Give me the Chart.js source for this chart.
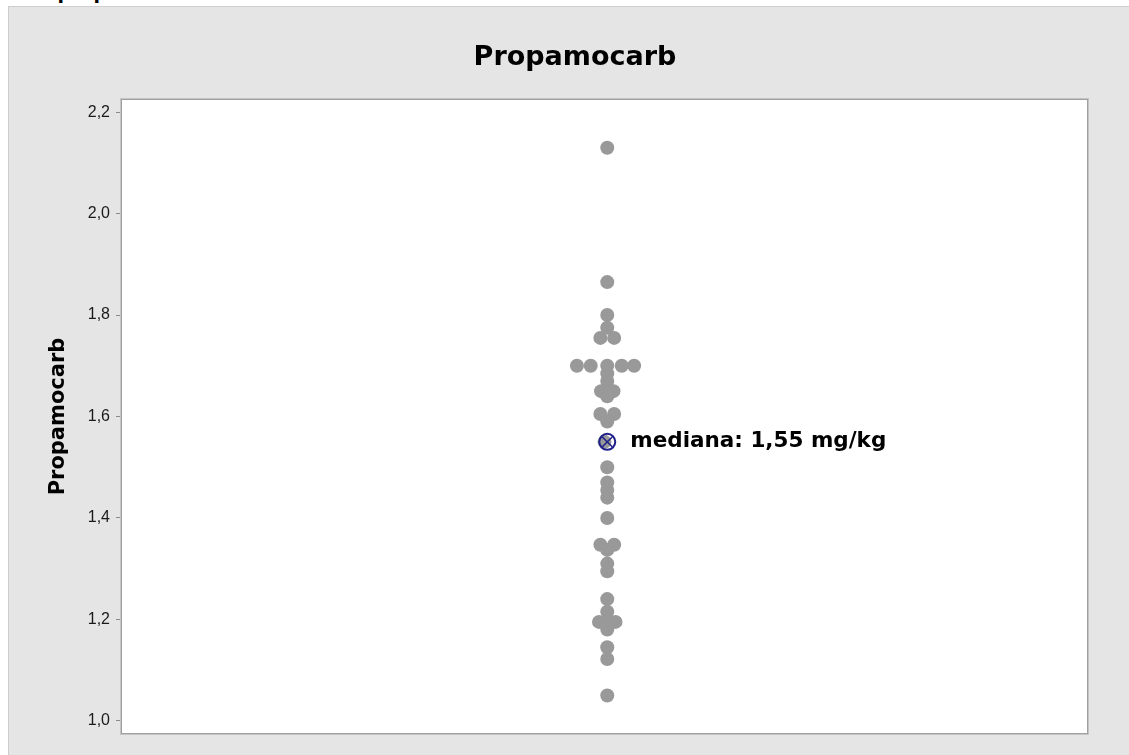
<!DOCTYPE html>
<html>
<head>
<meta charset="utf-8">
<script src="https://cdn.jsdelivr.net/npm/chart.js@4"></script>
<style>
  body { margin: 0; background: #fff; width: 1129px; height: 755px; overflow: hidden; position: relative; font-family: 'DejaVu Sans', sans-serif; }
  #caption { position: absolute; left: 2px; top: -19px; font-weight: bold; font-size: 19px; color: #000; }
  #panel { position: absolute; left: 8px; top: 6px; width: 1121px; height: 749px; background: #e5e5e5; border-left: 1px solid #cdcdcd; border-top: 1px solid #cdcdcd; box-sizing: border-box; }
  #chart { position: absolute; left: 9px; top: 7px; }
</style>
</head>
<body>
<div id="caption">e 3 – propamocarb</div>
<div id="panel"></div>
<canvas id="chart" width="1120" height="748"></canvas>
<script>
// Propamocarb values (mg/kg), one per sample
const values = [
    2.13, 1.865, 1.80, 1.775, 1.755, 1.755,
    1.70, 1.70, 1.70, 1.70, 1.70,
    1.685, 1.67, 1.65, 1.65, 1.64,
    1.605, 1.605, 1.59, 1.55,
    1.50, 1.47, 1.455, 1.44, 1.40,
    1.347, 1.347, 1.337, 1.31, 1.295,
    1.24, 1.215, 1.195, 1.195, 1.195, 1.18,
    1.145, 1.122, 1.05
];
// horizontal jitter of each dot (in dot widths)
const jitter = [
    0, 0, 0, 0, -0.5, 0.5,
    -2.2, -1.2, 0, 1.05, 1.95,
    0, 0, -0.45, 0.45, 0,
    -0.5, 0.5, 0, -0.2,
    0, 0, 0, 0, 0,
    -0.5, 0.5, 0, 0, 0,
    0, 0, -0.6, 0, 0.6, 0,
    0, 0, 0
];
const medianValue = 1.55;
const medianLabel = 'mediana: 1,55 mg/kg';
const yTicks = [1.0, 1.2, 1.4, 1.6, 1.8, 2.0, 2.2];
const chartTitle = 'Propamocarb';
const axisTitle = 'Propamocarb';

const fontFamily = "'DejaVu Sans', sans-serif";

const points = values.map((v, i) => ({ x: jitter[i], y: v }));

// grey panel behind, white plot area, frame round it, title above
const plotFrame = {
    id: 'plotFrame',
    beforeDraw(chart) {
        const { ctx, chartArea: a } = chart;
        ctx.save();
        ctx.fillStyle = '#e5e5e5';
        ctx.fillRect(0, 0, chart.width, chart.height);
        ctx.fillStyle = '#ffffff';
        ctx.fillRect(a.left, a.top, a.right - a.left, a.bottom - a.top);
        // title, centred a little right of the canvas middle like Minitab does
        ctx.font = 'bold 27px ' + fontFamily;
        ctx.fillStyle = '#000';
        ctx.textAlign = 'center';
        ctx.textBaseline = 'middle';
        ctx.fillText(chartTitle, chart.width / 2 + 6, 51);
        ctx.restore();
    },
    afterDraw(chart) {
        const { ctx, chartArea: a } = chart;
        ctx.save();
        ctx.strokeStyle = '#a0a0a0';
        ctx.lineWidth = 1;
        ctx.strokeRect(a.left - 0.5, a.top - 0.5, a.right - a.left + 1, a.bottom - a.top + 1);
        ctx.strokeStyle = '#c4c4c4';
        ctx.strokeRect(a.left - 1.5, a.top - 1.5, a.right - a.left + 3, a.bottom - a.top + 3);
        ctx.restore();
    }
};

// text next to the median marker
const medianText = {
    id: 'medianText',
    afterDatasetsDraw(chart) {
        const meta = chart.getDatasetMeta(1);
        const pt = meta.data[0];
        const ctx = chart.ctx;
        ctx.save();
        ctx.font = 'bold 21.5px ' + fontFamily;
        ctx.fillStyle = '#000';
        ctx.textBaseline = 'middle';
        ctx.textAlign = 'left';
        ctx.fillText(medianLabel, pt.x + 23, pt.y);
        ctx.restore();
    }
};

new Chart(document.getElementById('chart'), {
    type: 'scatter',
    data: {
        datasets: [
            {
                label: 'values',
                data: points,
                pointRadius: 7,
                pointHoverRadius: 7,
                pointBackgroundColor: '#999999',
                pointBorderWidth: 0,
                order: 3
            },
            {
                label: 'median circle',
                data: [{ x: 0, y: medianValue }],
                pointStyle: 'circle',
                pointRadius: 8,
                pointBackgroundColor: 'rgba(0,0,0,0)',
                pointBorderColor: '#1f1f8a',
                pointBorderWidth: 2,
                order: 2
            },
            {
                label: 'median cross',
                data: [{ x: 0, y: medianValue }],
                pointStyle: 'crossRot',
                pointRadius: 7,
                pointBorderColor: '#1f1f8a',
                pointBorderWidth: 1.5,
                order: 1
            }
        ]
    },
    options: {
        responsive: false,
        animation: false,
        layout: { padding: { left: 30, right: 42, top: 93, bottom: 22 } },
        plugins: {
            legend: { display: false },
            tooltip: { enabled: false },
            title: { display: false }
        },
        scales: {
            x: {
                type: 'linear',
                display: false,
                min: -35.2,
                max: 34.8
            },
            y: {
                type: 'linear',
                min: 0.976,
                max: 2.224,
                afterBuildTicks(axis) {
                    axis.ticks = yTicks.map(v => ({ value: v }));
                },
                afterFit(axis) {
                    axis.width = 83;
                },
                ticks: {
                    color: '#1a1a1a',
                    padding: 6,
                    font: { family: "'Liberation Sans', sans-serif", size: 16 },
                    callback: v => v.toFixed(1).replace('.', ',')
                },
                grid: {
                    drawOnChartArea: false,
                    tickLength: 6,
                    color: '#8a8a8a'
                },
                border: { display: false },
                title: {
                    display: true,
                    text: axisTitle,
                    color: '#000',
                    font: { family: fontFamily, size: 21, weight: 'bold' },
                    padding: { top: 7, bottom: 0 }
                }
            }
        }
    },
    plugins: [plotFrame, medianText]
});
</script>
</body>
</html>
